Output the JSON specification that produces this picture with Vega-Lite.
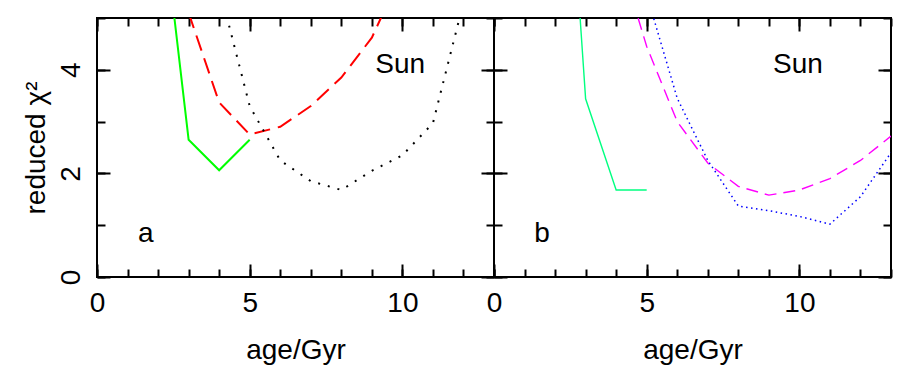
{
  "$schema": "https://vega.github.io/schema/vega-lite/v6.json",
  "background": "white",
  "padding": {"left": 21, "top": 16, "right": 5, "bottom": 5},
  "spacing": 0,
  "bounds": "flush",
  "config": {
    "view": {"stroke": "black", "strokeWidth": 2},
    "axis": {"grid": false, "domain": false, "ticks": true, "zindex": 1, "tickColor": "black", "tickWidth": 2, "labelFont": "Liberation Sans", "labelFontSize": 28, "labelColor": "black", "titleFont": "Liberation Sans", "titleFontSize": 28, "titleFontWeight": "normal", "titleColor": "black", "labelFlush": false, "labelOverlap": false},
    "text": {"font": "Liberation Sans", "fontSize": 28, "color": "black"}
  },
  "hconcat": [
    {
      "width": 397, "height": 259,
      "data": {"values": [
        {"s": "green", "age": 2, "chi": 7.7},
        {"s": "green", "age": 3, "chi": 2.65},
        {"s": "green", "age": 4, "chi": 2.06},
        {"s": "green", "age": 5, "chi": 2.65},
        {"s": "red", "age": 3, "chi": 5.1},
        {"s": "red", "age": 4, "chi": 3.37},
        {"s": "red", "age": 5, "chi": 2.75},
        {"s": "red", "age": 6, "chi": 2.9},
        {"s": "red", "age": 7, "chi": 3.3},
        {"s": "red", "age": 8, "chi": 3.85},
        {"s": "red", "age": 9, "chi": 4.62},
        {"s": "red", "age": 10, "chi": 5.9},
        {"s": "black", "age": 4, "chi": 5.6},
        {"s": "black", "age": 5, "chi": 3.3},
        {"s": "black", "age": 6, "chi": 2.25},
        {"s": "black", "age": 7, "chi": 1.85},
        {"s": "black", "age": 8, "chi": 1.68},
        {"s": "black", "age": 9, "chi": 2.05},
        {"s": "black", "age": 10, "chi": 2.35},
        {"s": "black", "age": 11, "chi": 2.97},
        {"s": "black", "age": 12, "chi": 5.3}
      ]},
      "layer": [
        {
          "transform": [{"filter": "datum.s === 'green'"}],
          "mark": {"type": "line", "color": "#00ff00", "strokeWidth": 2, "clip": true},
          "encoding": {
            "x": {"field": "age", "type": "quantitative", "scale": {"domain": [0, 13], "nice": false, "zero": false},
              "axis": {"orient": "bottom", "values": [0, 5, 10], "tickSize": -13, "labelPadding": 25, "format": "d", "title": "age/Gyr", "titlePadding": 19}},
            "y": {"field": "chi", "type": "quantitative", "scale": {"domain": [0, 5], "nice": false},
              "axis": {"orient": "left", "values": [0, 2, 4], "tickSize": -13, "labelPadding": 31, "labelAngle": -90, "labelAlign": "center", "labelBaseline": "alphabetic", "format": "d", "title": "reduced χ²", "titleBaseline": "alphabetic", "titlePadding": 13}}
          }
        },
        {
          "transform": [{"filter": "datum.s === 'red'"}],
          "mark": {"type": "line", "color": "#ff0000", "strokeWidth": 2, "strokeDash": [16, 8], "clip": true},
          "encoding": {
            "x": {"field": "age", "type": "quantitative", "axis": {"orient": "bottom", "values": [0,1,2,3,4,5,6,7,8,9,10,11,12,13], "tickSize": -8, "labels": false, "title": null, "minExtent": 0, "maxExtent": 0}},
            "y": {"field": "chi", "type": "quantitative", "axis": {"orient": "left", "values": [0,1,2,3,4,5], "tickSize": -8, "labels": false, "title": null, "minExtent": 0, "maxExtent": 0}}
          }
        },
        {
          "transform": [{"filter": "datum.s === 'black'"}],
          "mark": {"type": "line", "color": "#000000", "strokeWidth": 2, "strokeDash": [2, 8], "clip": true},
          "encoding": {
            "x": {"field": "age", "type": "quantitative", "axis": {"orient": "top", "values": [0, 5, 10], "tickSize": -13, "labels": false, "title": null, "minExtent": 0, "maxExtent": 0}},
            "y": {"field": "chi", "type": "quantitative", "axis": {"orient": "right", "values": [0, 2, 4], "tickSize": -13, "labels": false, "title": null, "minExtent": 0, "maxExtent": 0}}
          }
        },
        {
          "data": {"values": [
            {"t": "Sun", "age": 9.93, "chi": 3.93},
            {"t": "a", "age": 1.6, "chi": 0.68}
          ]},
          "mark": {"type": "text", "align": "center", "baseline": "alphabetic"},
          "encoding": {
            "x": {"field": "age", "type": "quantitative", "axis": {"orient": "top", "values": [0,1,2,3,4,5,6,7,8,9,10,11,12,13], "tickSize": -8, "labels": false, "title": null, "minExtent": 0, "maxExtent": 0}},
            "y": {"field": "chi", "type": "quantitative", "axis": {"orient": "right", "values": [0,1,2,3,4,5], "tickSize": -8, "labels": false, "title": null, "minExtent": 0, "maxExtent": 0}},
            "text": {"field": "t"}
          }
        }
      ],
      "resolve": {"axis": {"x": "independent", "y": "independent"}}
    },
    {
      "width": 397, "height": 259,
      "data": {"values": [
        {"s": "green", "age": 2, "chi": 12.1},
        {"s": "green", "age": 3, "chi": 3.44},
        {"s": "green", "age": 4, "chi": 1.68},
        {"s": "green", "age": 5, "chi": 1.68},
        {"s": "magenta", "age": 4, "chi": 6.4},
        {"s": "magenta", "age": 5, "chi": 4.45},
        {"s": "magenta", "age": 6, "chi": 3.0},
        {"s": "magenta", "age": 7, "chi": 2.2},
        {"s": "magenta", "age": 8, "chi": 1.75},
        {"s": "magenta", "age": 9, "chi": 1.58},
        {"s": "magenta", "age": 10, "chi": 1.68},
        {"s": "magenta", "age": 11, "chi": 1.9},
        {"s": "magenta", "age": 12, "chi": 2.25},
        {"s": "magenta", "age": 13, "chi": 2.72},
        {"s": "blue", "age": 5, "chi": 5.45},
        {"s": "blue", "age": 6, "chi": 3.45},
        {"s": "blue", "age": 7, "chi": 2.25},
        {"s": "blue", "age": 8, "chi": 1.37},
        {"s": "blue", "age": 9, "chi": 1.28},
        {"s": "blue", "age": 10, "chi": 1.17},
        {"s": "blue", "age": 11, "chi": 1.02},
        {"s": "blue", "age": 12, "chi": 1.55},
        {"s": "blue", "age": 13, "chi": 2.4}
      ]},
      "layer": [
        {
          "transform": [{"filter": "datum.s === 'green'"}],
          "mark": {"type": "line", "color": "#00ff80", "strokeWidth": 1.4, "clip": true},
          "encoding": {
            "x": {"field": "age", "type": "quantitative", "scale": {"domain": [0, 13], "nice": false, "zero": false},
              "axis": {"orient": "bottom", "values": [0, 5, 10], "tickSize": -13, "labelPadding": 25, "format": "d", "title": "age/Gyr", "titlePadding": 19}},
            "y": {"field": "chi", "type": "quantitative", "scale": {"domain": [0, 5], "nice": false},
              "axis": {"orient": "left", "values": [0, 2, 4], "tickSize": -13, "labels": false, "title": null, "minExtent": 0, "maxExtent": 0}}
          }
        },
        {
          "transform": [{"filter": "datum.s === 'magenta'"}],
          "mark": {"type": "line", "color": "#ff00ff", "strokeWidth": 1.4, "strokeDash": [12, 7], "clip": true},
          "encoding": {
            "x": {"field": "age", "type": "quantitative", "axis": {"orient": "bottom", "values": [0,1,2,3,4,5,6,7,8,9,10,11,12,13], "tickSize": -8, "labels": false, "title": null, "minExtent": 0, "maxExtent": 0}},
            "y": {"field": "chi", "type": "quantitative", "axis": {"orient": "left", "values": [0,1,2,3,4,5], "tickSize": -8, "labels": false, "title": null, "minExtent": 0, "maxExtent": 0}}
          }
        },
        {
          "transform": [{"filter": "datum.s === 'blue'"}],
          "mark": {"type": "line", "color": "#0000ff", "strokeWidth": 1.5, "strokeDash": [1.5, 3.5], "clip": true},
          "encoding": {
            "x": {"field": "age", "type": "quantitative", "axis": {"orient": "top", "values": [0, 5, 10], "tickSize": -13, "labels": false, "title": null, "minExtent": 0, "maxExtent": 0}},
            "y": {"field": "chi", "type": "quantitative", "axis": {"orient": "right", "values": [0, 2, 4], "tickSize": -13, "labels": false, "title": null, "minExtent": 0, "maxExtent": 0}}
          }
        },
        {
          "data": {"values": [
            {"t": "Sun", "age": 9.95, "chi": 3.93},
            {"t": "b", "age": 1.57, "chi": 0.68}
          ]},
          "mark": {"type": "text", "align": "center", "baseline": "alphabetic"},
          "encoding": {
            "x": {"field": "age", "type": "quantitative", "axis": {"orient": "top", "values": [0,1,2,3,4,5,6,7,8,9,10,11,12,13], "tickSize": -8, "labels": false, "title": null, "minExtent": 0, "maxExtent": 0}},
            "y": {"field": "chi", "type": "quantitative", "axis": {"orient": "right", "values": [0,1,2,3,4,5], "tickSize": -8, "labels": false, "title": null, "minExtent": 0, "maxExtent": 0}},
            "text": {"field": "t"}
          }
        }
      ],
      "resolve": {"axis": {"x": "independent", "y": "independent"}}
    }
  ]
}
